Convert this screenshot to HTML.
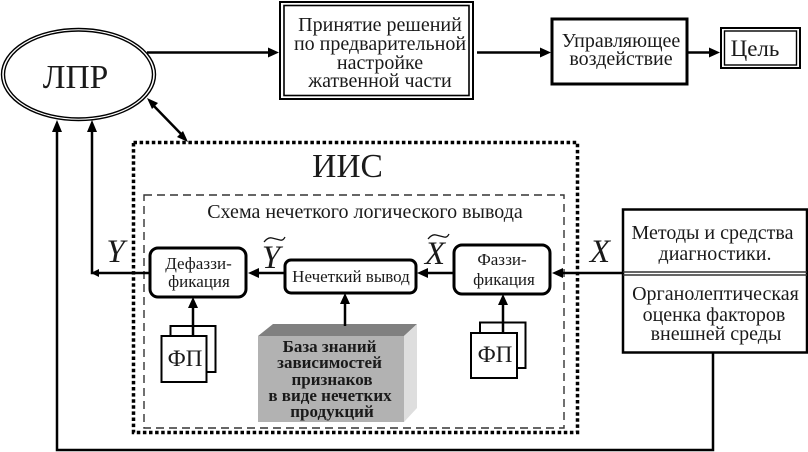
<!DOCTYPE html>
<html><head><meta charset="utf-8">
<style>
html,body{margin:0;padding:0;background:#fff}
svg{display:block}
text{font-family:"Liberation Serif","Noto Serif CJK SC",serif;fill:#1a1a1a;text-anchor:middle}
.i{font-style:italic}
.s{fill:none;stroke:#000;stroke-width:2.500}
.w{fill:#fff;stroke:#000;stroke-width:2}
.r{fill:#fff;stroke:#000;stroke-width:3}
</style></head><body>
<svg width="808" height="452" viewBox="0 0 808 452" xmlns="http://www.w3.org/2000/svg">

<!-- frames -->
<rect x="133.500" y="142.500" width="444" height="290" fill="none" stroke="#000" stroke-width="3.500" stroke-dasharray="3.500 2.600"/>
<rect x="144" y="195" width="420" height="233" fill="none" stroke="#333" stroke-width="1.400" stroke-dasharray="8 5"/>

<!-- ellipse -->
<ellipse cx="78.500" cy="74.500" rx="77" ry="46" fill="#fff" stroke="#000" stroke-width="1.400"/>
<ellipse cx="78.500" cy="74.500" rx="74" ry="43.500" fill="#fff" stroke="#000" stroke-width="1.400"/>
<text x="75.500" y="88" font-size="33.500">ЛПР</text>

<!-- top row -->
<rect x="280" y="2" width="193" height="97" fill="#fff" stroke="#000" stroke-width="2"/>
<rect x="284" y="5.500" width="185" height="90" fill="#fff" stroke="#000" stroke-width="1.600"/>
<text x="380" y="31" font-size="20">Принятие решений</text>
<text x="380" y="50" font-size="20">по предварительной</text>
<text x="380" y="69" font-size="20">настройке</text>
<text x="380" y="87" font-size="20">жатвенной части</text>

<rect x="552" y="19" width="135" height="65" class="r"/>
<text x="621" y="47" font-size="20">Управляющее</text>
<text x="621" y="65" font-size="20">воздействие</text>

<rect x="721" y="28" width="79" height="40" fill="#fff" stroke="#000" stroke-width="2"/>
<rect x="724.500" y="31" width="72" height="34" fill="#fff" stroke="#000" stroke-width="1.400"/>
<text x="755" y="56" font-size="23">Цель</text>

<!-- top arrows -->
<path class="s" d="M147 52.500H272"/><polygon points="279,52.500 268,47.500 268,57.500"/>
<path class="s" d="M477 52.500H545"/><polygon points="551,52.500 540,47.500 540,57.500"/>
<path class="s" d="M688 52.500H714"/><polygon points="720,52.500 709,47.500 709,57.500"/>
<path class="s" d="M151 103L184 137"/>
<polygon points="147,98 158,103 152,109"/>
<polygon points="188,142 177,137 183,131"/>

<!-- labels -->
<text x="347.500" y="177" font-size="33.500">ИИС</text>
<text x="365" y="218" font-size="20">Схема нечеткого логического вывода</text>

<!-- main flow lines -->
<path class="s" d="M622 273H558"/><polygon points="552,273 563,268 563,278"/>
<path class="s" d="M453 273H423"/><polygon points="417,273 428,268 428,278"/>
<path class="s" d="M284 273H254"/><polygon points="248,273 259,268 259,278"/>
<path class="s" d="M149 273H92V128"/>
<polygon points="92,120 87,132 97,132"/>
<polygon points="91,273 99,269 99,277"/>
<path class="s" d="M713 352V450H57V128"/>
<polygon points="57,120 52,132 62,132"/>

<!-- blocks -->
<rect x="150" y="248" width="96" height="49" rx="8" class="r"/>
<text x="198.500" y="269" font-size="17">Дефаззи-</text>
<text x="199" y="287" font-size="17">фикация</text>

<rect x="285" y="260" width="131" height="33" rx="6" class="r"/>
<text x="351" y="282" font-size="17">Нечеткий вывод</text>

<rect x="454" y="245" width="96" height="49" rx="8" class="r"/>
<text x="502" y="265" font-size="17">Фаззи-</text>
<text x="504" y="285" font-size="17">фикация</text>

<!-- FP left -->
<rect x="170.500" y="326" width="45" height="46" class="w"/>
<rect x="161.500" y="336" width="45" height="46" class="w"/>
<text x="185" y="366" font-size="23">ФП</text>
<path class="s" d="M193 335V303"/><polygon points="193,297 188,308 198,308"/>

<!-- FP right -->
<rect x="480" y="322.500" width="45.500" height="45.500" class="w"/>
<rect x="471" y="333" width="46" height="45" class="w"/>
<text x="495" y="362" font-size="23">ФП</text>
<path class="s" d="M503 332V300"/><polygon points="503,294 498,305 508,305"/>

<!-- cube -->
<polygon points="258,336 273,324 417,324 404,336" fill="#808080"/>
<polygon points="404,336 417,324 417,408 404,422" fill="#dedede"/>
<rect x="258" y="336" width="146" height="86" fill="#b2b2b2"/>
<path class="s" d="M345 326V299"/><polygon points="345,293 340,304 350,304"/>
<g font-weight="bold" font-size="17">
<text x="329.500" y="352">База знаний</text>
<text x="329.500" y="368">зависимостей</text>
<text x="332" y="385">признаков</text>
<text x="330" y="401">в виде нечетких</text>
<text x="332" y="417">продукций</text>
</g>

<!-- right block -->
<rect x="623" y="209.500" width="184" height="143" fill="#fff" stroke="#000" stroke-width="2.500"/>
<path d="M623 272H807M623 275H807" stroke="#333" stroke-width="1.400"/>
<text x="712.500" y="239" font-size="20">Методы и средства</text>
<text x="715" y="260" font-size="20">диагностики.</text>
<text x="715.500" y="300" font-size="20">Органолептическая</text>
<text x="714" y="321" font-size="20">оценка факторов</text>
<text x="716" y="340" font-size="20">внешней среды</text>

<!-- math labels -->
<text class="i" x="115.500" y="262" font-size="33">Y</text>
<text class="i" x="271" y="268" font-size="33">Y</text>
<path d="M264 242q4 -5 8 -4t8 2q3 1 5 -3" fill="none" stroke="#111" stroke-width="1.300"/>
<text class="i" x="435" y="264" font-size="33">X</text>
<path d="M428 239q4 -5 8 -4t8 2q3 1 5 -3" fill="none" stroke="#111" stroke-width="1.300"/>
<text class="i" x="600" y="262" font-size="33">X</text>
</svg>
</body></html>
